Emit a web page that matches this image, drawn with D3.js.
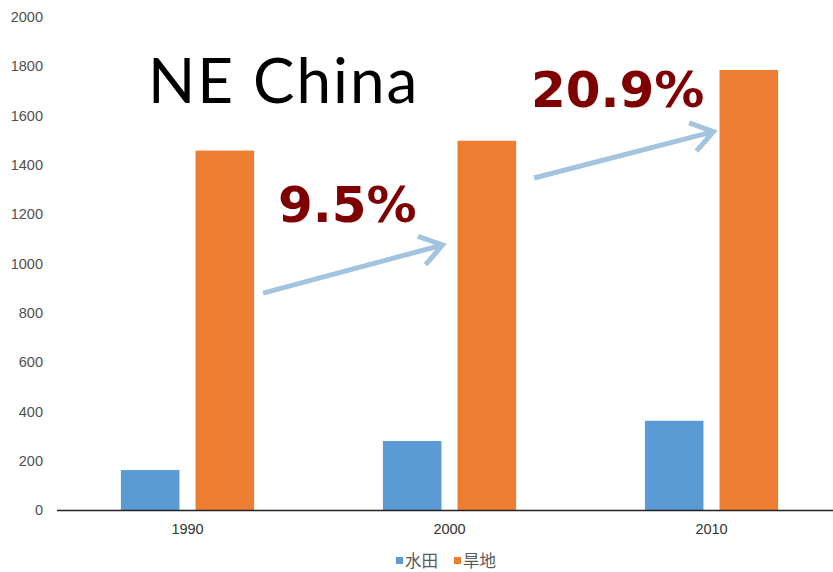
<!DOCTYPE html>
<html>
<head>
<meta charset="utf-8">
<script src="https://cdn.jsdelivr.net/npm/d3@7"></script>
<style>
  body { margin: 0; background: #fff; }
  svg { display: block; }
</style>
</head>
<body>
<svg id="chart"></svg>
<script>
const width = 833;
const height = 572;

// data
const years = ["1990", "2000", "2010"];
const seriesNames = ["水田", "旱地"];
const paddy = [162, 280, 362];
const dryland = [1458, 1498, 1785];
const yTicks = [0, 200, 400, 600, 800, 1000, 1200, 1400, 1600, 1800, 2000];
const growthLabels = ["9.5%", "20.9%"];
const colors = ["#5B9BD5", "#ED7D31"];

const svg = d3.select("#chart")
    .attr("width", width)
    .attr("height", height);

const xScale = d3.scaleBand()
    .domain(years)
    .range([56.5, 842.5]);

const xInner = d3.scaleBand()
    .domain(seriesNames)
    .range([0, xScale.bandwidth()])
    .paddingInner(0.215)
    .paddingOuter(0.863);

const yScale = d3.scaleLinear()
    .domain([0, 2000])
    .range([510, 17]);

// y labels, no axis line
const yAxis = d3.axisLeft(yScale)
    .tickValues(yTicks)
    .tickFormat(d3.format("d"))
    .tickSize(0)
    .tickPadding(0);

svg.append("g")
    .attr("transform", "translate(43,0)")
    .call(yAxis)
    .call(g => g.select(".domain").remove())
    .call(g => g.selectAll("text")
        .attr("fill", "#505050")
        .style("font-family", "Liberation Sans, Arial, sans-serif")
        .style("font-size", "14.5px"));

const rows = years.map((y, i) => ({ year: y, values: [paddy[i], dryland[i]] }));

const groups = svg.selectAll(".grp")
    .data(rows)
    .enter()
    .append("g")
    .attr("class", "grp")
    .attr("transform", d => `translate(${xScale(d.year)},0)`);

groups.selectAll("rect")
    .data(d => d.values.map((v, k) => ({ key: seriesNames[k], value: v, k })))
    .enter()
    .append("rect")
    .attr("x", d => xInner(d.key))
    .attr("y", d => yScale(d.value))
    .attr("width", xInner.bandwidth())
    .attr("height", d => yScale(0) - yScale(d.value))
    .attr("fill", d => colors[d.k]);

// category axis
const xAxis = d3.axisBottom(xScale)
    .tickSize(0)
    .tickPadding(13.5);

svg.append("g")
    .attr("transform", `translate(0,${yScale(0)})`)
    .call(xAxis)
    .call(g => g.select(".domain").attr("stroke", "#222").attr("stroke-width", 1.5))
    .call(g => g.selectAll("text")
        .attr("fill", "#333")
        .style("font-family", "Liberation Sans, Arial, sans-serif")
        .style("font-size", "14.5px"));

// legend
const legend = svg.append("g").attr("transform", "translate(396,561)");
seriesNames.forEach((name, k) => {
    const item = legend.append("g").attr("transform", `translate(${k * 58},0)`);
    item.append("rect")
        .attr("x", 0).attr("y", -4)
        .attr("width", 7).attr("height", 7)
        .attr("fill", colors[k]);
    item.append("text")
        .attr("x", 9).attr("y", 6)
        .attr("fill", "#595959")
        .style("font-family", "Noto Sans CJK SC, sans-serif")
        .style("font-size", "16.5px")
        .text(name);
});

// title
svg.append("text")
    .attr("x", 148)
    .attr("y", 103)
    .attr("fill", "#000")
    .style("font-family", "Lato, sans-serif")
    .style("font-size", "62px")
    .style("letter-spacing", "2px")
    .text("NE China");

// growth arrows, anchored to the orange bars
const arrows = [
    { from: "1990", to: "2000", v0: 880, v1: 1075, dx0: 9, dx1: -15, label: growthLabels[0], lx: 278, ly: 222 },
    { from: "2000", to: "2010", v0: 1347, v1: 1535, dx0: 18, dx1: -6, label: growthLabels[1], lx: 531, ly: 107 }
];

arrows.forEach(a => {
    const x0 = xScale(a.from) + xInner("旱地") + xInner.bandwidth() + a.dx0;
    const x1 = xScale(a.to) + xInner("旱地") + a.dx1;
    const y0 = yScale(a.v0);
    const y1 = yScale(a.v1);
    const ang = Math.atan2(y1 - y0, x1 - x0);
    const len = 26, spread = 0.6;
    const h1 = [x1 - len * Math.cos(ang - spread), y1 - len * Math.sin(ang - spread)];
    const h2 = [x1 - len * Math.cos(ang + spread), y1 - len * Math.sin(ang + spread)];
    svg.append("path")
        .attr("d", `M${x0},${y0}L${x1},${y1}M${h1[0]},${h1[1]}L${x1},${y1}L${h2[0]},${h2[1]}`)
        .attr("fill", "none")
        .attr("stroke", "#A3C4DF")
        .attr("stroke-width", 5)
        .attr("stroke-linecap", "butt");
    svg.append("text")
        .attr("x", a.lx)
        .attr("y", a.ly)
        .attr("fill", "#7F0000")
        .style("font-family", "DejaVu Sans, sans-serif")
        .style("font-weight", "bold")
        .style("font-size", "50px")
        .text(a.label);
});
</script>
</body>
</html>
